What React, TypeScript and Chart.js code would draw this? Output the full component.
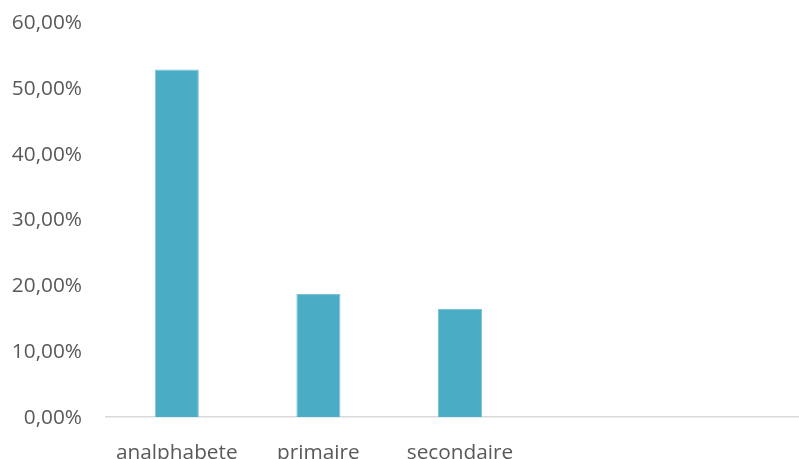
import React, { useEffect, useRef } from "react";
import { Chart, registerables } from "chart.js";

Chart.register(...registerables);

const categories = ["analphabete", "primaire", "secondaire", "", ""];
const values = [52.8, 18.7, 16.4, null, null];
const yMax = 60;
const yStep = 10;

export default function App() {
  const ref = useRef<HTMLCanvasElement | null>(null);
  useEffect(() => {
    if (!ref.current) return;
    const font = { family: "'Open Sans', sans-serif", size: 20.8 };
    const chart = new Chart(ref.current, {
      type: "bar",
      data: {
        labels: categories,
        datasets: [
          {
            data: values as any,
            backgroundColor: "#4BACC6",
            borderColor: "#7cc3d6",
            borderWidth: 1,
            categoryPercentage: 1,
            barPercentage: 0.311,
          },
        ],
      },
      options: {
        animation: false,
        responsive: false,
        maintainAspectRatio: false,
        layout: { autoPadding: false, padding: { top: 22, left: 0, right: 0, bottom: 0 } },
        plugins: { legend: { display: false }, tooltip: { enabled: false } },
        scales: {
          x: {
            grid: { display: false, drawTicks: false },
            border: { display: true, color: "#d9d9d9", width: 1.5 },
            ticks: { color: "#595959", font, padding: 24, maxRotation: 0, autoSkip: false },
            afterFit: (s: any) => {
              s.height = 42;
              s.paddingLeft = 0;
              s.paddingRight = 0;
            },
          },
          y: {
            min: 0,
            max: yMax,
            grid: { display: false, drawTicks: false },
            border: { display: false },
            ticks: {
              stepSize: yStep,
              color: "#595959",
              font,
              padding: 24,
              labelOffset: 1,
              callback: (v: any) => Number(v).toFixed(2).replace(".", ",") + "%",
            },
            afterFit: (s: any) => {
              s.width = 106;
              s.paddingTop = 0;
              s.paddingBottom = 0;
            },
          },
        },
      },
    });
    return () => chart.destroy();
  }, []);
  return (
    <div style={{ position: "fixed", left: 0, top: 0, width: 799, height: 459, overflow: "hidden", background: "#fff" }}>
      <canvas ref={ref} width={814} height={459} style={{ display: "block" }} />
    </div>
  );
}
